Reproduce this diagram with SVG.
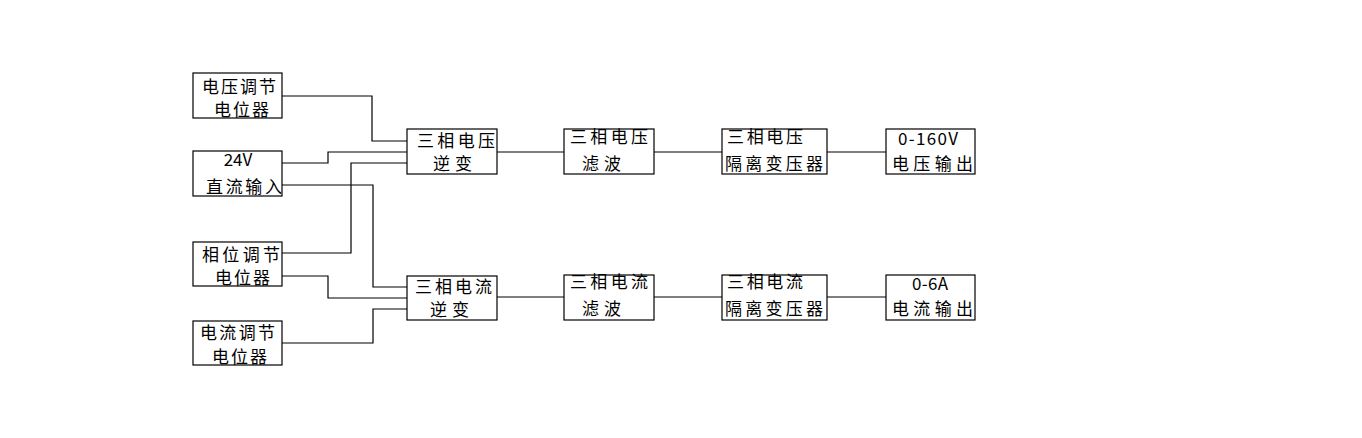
<svg xmlns="http://www.w3.org/2000/svg" width="1362" height="438" viewBox="0 0 1362 438">
<style>
rect{fill:#fff;stroke:#000;stroke-width:1.2}
path{fill:none;stroke:#000;stroke-width:1.2}
text{font-family:"Noto Sans CJK SC","Liberation Sans",sans-serif;font-size:17px;fill:#000}
</style>
<rect x="0" y="0" width="1362" height="438" style="stroke:none"/>
<g id="connectors">
<path d="M282,96 H372 V141 H407"/>
<path d="M282,163 H328 V152 H407"/>
<path d="M407,163 H351 V253 H282"/>
<path d="M282,185 H373 V287 H407"/>
<path d="M282,276 H328 V298 H407"/>
<path d="M282,343 H373 V309 H407"/>
<path d="M497,152 H564"/>
<path d="M654,152 H722"/>
<path d="M827,152 H886"/>
<path d="M497,297 H564"/>
<path d="M654,297 H722"/>
<path d="M827,297 H886"/>
</g>
<g id="n_vpot"><rect x="193" y="73" width="89" height="45"/><text x="202" y="93" textLength="74" lengthAdjust="spacing">电压调节</text><text x="214" y="116" textLength="55" lengthAdjust="spacing">电位器</text></g>
<g id="n_dc"><rect x="193" y="151" width="89" height="45"/><text x="238" y="166" text-anchor="middle">24V</text><text x="206" y="193" textLength="76" lengthAdjust="spacing">直流输入</text></g>
<g id="n_ppot"><rect x="193" y="242" width="89" height="44"/><text x="202" y="261" textLength="78" lengthAdjust="spacing">相位调节</text><text x="215" y="284" textLength="55" lengthAdjust="spacing">电位器</text></g>
<g id="n_ipot"><rect x="193" y="321" width="89" height="44"/><text x="200" y="339" textLength="75" lengthAdjust="spacing">电流调节</text><text x="212" y="363" textLength="55" lengthAdjust="spacing">电位器</text></g>
<g id="n_vinv"><rect x="407" y="129" width="90" height="45"/><text x="417" y="147" textLength="78" lengthAdjust="spacing">三相电压</text><text x="433" y="170" textLength="39" lengthAdjust="spacing">逆变</text></g>
<g id="n_iinv"><rect x="407" y="276" width="90" height="44"/><text x="415" y="293" textLength="77" lengthAdjust="spacing">三相电流</text><text x="430" y="316" textLength="39" lengthAdjust="spacing">逆变</text></g>
<g id="n_vflt"><rect x="564" y="129" width="90" height="45"/><text x="570" y="143" textLength="78" lengthAdjust="spacing">三相电压</text><text x="582" y="170" textLength="39" lengthAdjust="spacing">滤波</text></g>
<g id="n_iflt"><rect x="564" y="275" width="90" height="45"/><text x="570" y="288" textLength="78" lengthAdjust="spacing">三相电流</text><text x="582" y="315" textLength="39" lengthAdjust="spacing">滤波</text></g>
<g id="n_vtr"><rect x="722" y="129" width="105" height="45"/><text x="727" y="143" textLength="76" lengthAdjust="spacing">三相电压</text><text x="725" y="170" textLength="98" lengthAdjust="spacing">隔离变压器</text></g>
<g id="n_itr"><rect x="722" y="275" width="105" height="45"/><text x="727" y="288" textLength="76" lengthAdjust="spacing">三相电流</text><text x="725" y="315" textLength="98" lengthAdjust="spacing">隔离变压器</text></g>
<g id="n_vout"><rect x="886" y="129" width="89" height="45"/><text x="898" y="145" textLength="60" lengthAdjust="spacing">0-160V</text><text x="892" y="170" textLength="81" lengthAdjust="spacing">电压输出</text></g>
<g id="n_iout"><rect x="886" y="275" width="89" height="45"/><text x="912" y="290" textLength="36" lengthAdjust="spacing">0-6A</text><text x="892" y="315" textLength="81" lengthAdjust="spacing">电流输出</text></g>
</svg>
